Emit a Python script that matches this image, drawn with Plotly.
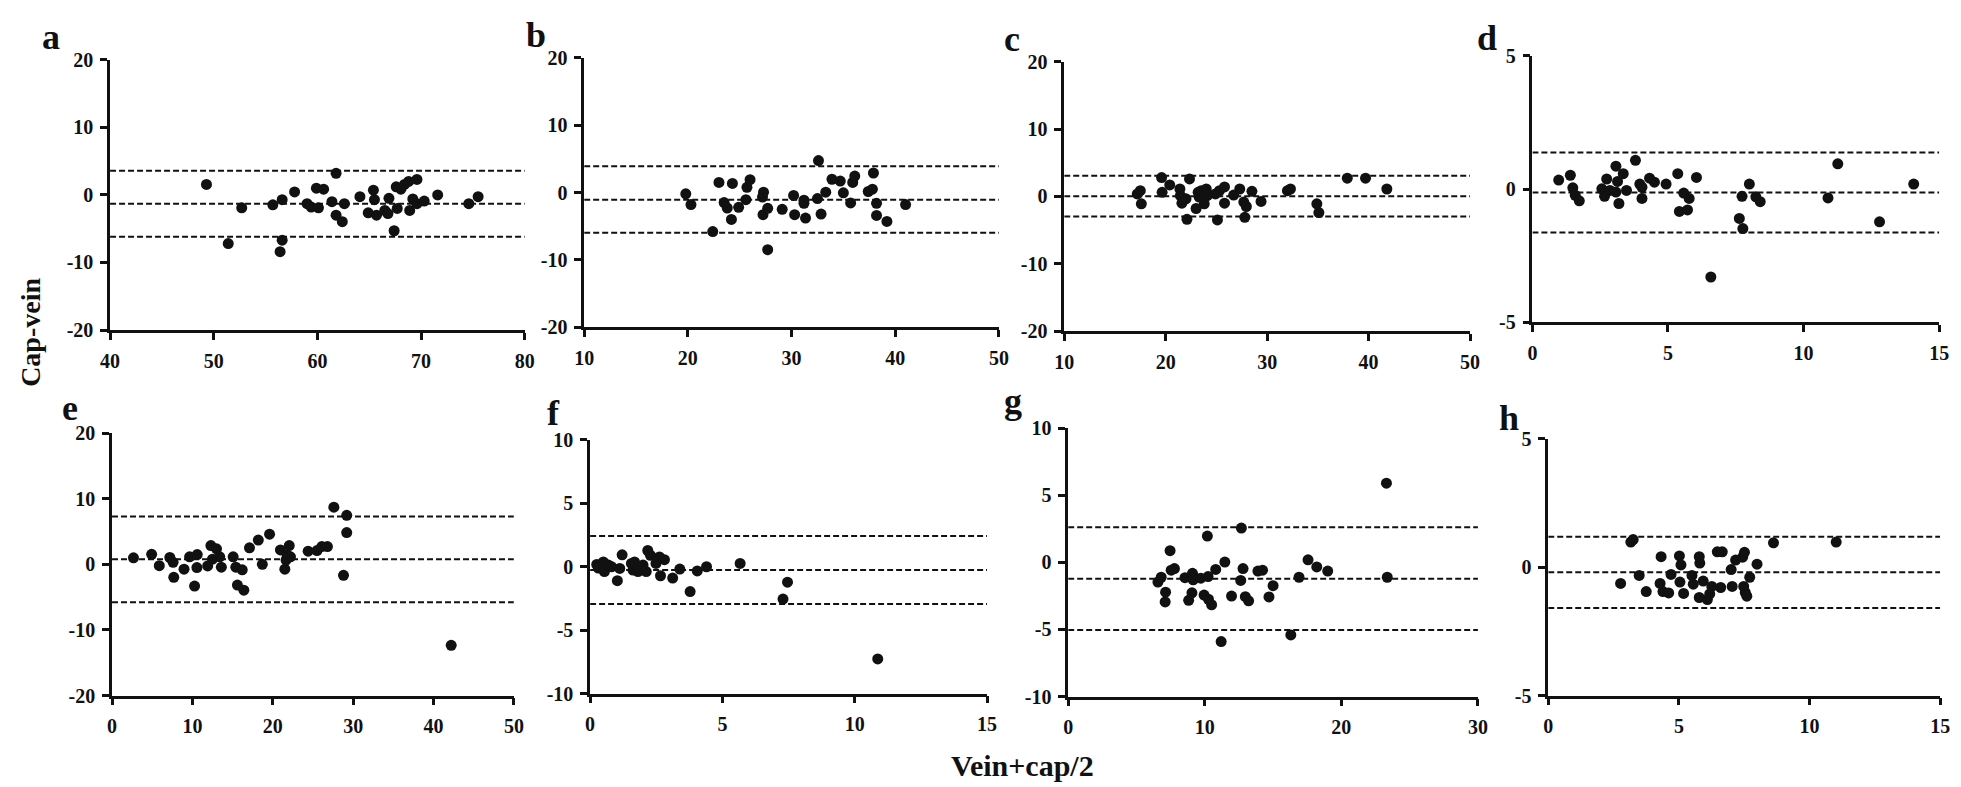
import plotly.graph_objects as go

W, H = 1961, 787

# ---- data (Bland-Altman style panels a-h) ----
a_x = [49.3, 51.4, 52.7, 55.7, 56.6, 56.6, 56.4, 57.8, 59.0, 59.4, 59.9, 60.1, 60.6, 61.4,
       61.8, 61.8, 62.4, 62.6, 64.1, 64.9, 65.4, 65.5, 65.7, 66.5, 66.9, 66.8, 67.4, 67.6,
       67.7, 68.05, 68.4, 68.8, 68.9, 69.2, 69.6, 69.6, 70.3, 71.6, 74.6, 75.5]
a_y = [1.56, -7.2, -1.9, -1.46, -0.7, -6.7, -8.4, 0.45, -1.3, -1.8, 1.0, -1.9, 0.85, -1.0,
       3.2, -3.0, -3.95, -1.3, -0.25, -2.65, 0.7, -0.7, -3.0, -2.3, -0.5, -2.75, -5.3, 1.2,
       -2.0, 0.85, 1.56, 2.0, -2.3, -0.6, 2.3, -1.3, -0.9, 0.0, -1.3, -0.25]
a_lines = [3.57, -1.32, -6.2]

b_x = [19.8, 20.3, 22.4, 23.0, 23.5, 23.8, 24.3, 24.2, 24.9, 25.6, 25.7, 26.0, 27.2, 27.3,
       27.25, 27.7, 27.7, 29.1, 30.2, 30.3, 31.2, 31.2, 31.35, 32.5, 32.6, 32.85, 33.3, 33.9,
       34.7, 35.0, 35.7, 35.9, 36.1, 37.4, 37.8, 37.9, 38.2, 38.2, 39.2, 41.0]
b_y = [-0.2, -1.8, -5.8, 1.5, -1.5, -2.3, 1.35, -4.0, -2.2, -1.06, 0.77, 1.9, -0.67, 0.05,
       -3.3, -2.35, -8.5, -2.5, -0.43, -3.3, -1.15, -1.6, -3.8, -0.9, 4.75, -3.2, 0.05, 1.97,
       1.7, -0.05, -1.55, 1.5, 2.45, 0.15, 0.5, 2.9, -1.6, -3.4, -4.3, -1.8]
b_lines = [3.9, -1.06, -5.96]

c_x = [17.2, 17.5, 17.6, 19.6, 19.65, 20.4, 21.4, 21.45, 21.6, 22.0, 22.1, 22.35, 23.0, 23.2,
       23.3, 23.5, 23.8, 24.0, 24.1, 24.9, 25.1, 25.3, 25.8, 25.8, 26.7, 27.3, 27.7, 27.95,
       27.8, 28.5, 29.4, 32.0, 32.3, 34.9, 35.1, 37.9, 39.7, 41.8]
c_y = [0.36, 0.85, -1.1, 2.8, 0.6, 1.7, 1.1, 0.1, -1.0, -0.36, -3.4, 2.6, -1.8, 0.6,
       -0.1, 0.85, -1.1, 1.1, 0.1, 0.36, -3.5, 0.85, 1.4, -1.0, 0.2, 1.1, -0.85, -1.5,
       -3.1, 0.75, -0.75, 0.85, 1.1, -1.1, -2.4, 2.7, 2.7, 1.1]
c_lines = [3.06, 0.02, -3.0]

d_x = [0.97, 1.40, 1.49, 1.58, 1.73, 2.56, 2.66, 2.74, 2.86, 3.08, 3.14, 3.08, 3.19, 3.35,
       3.47, 3.8, 3.96, 4.04, 4.04, 4.32, 4.5, 4.93, 5.36, 5.42, 5.58, 5.72, 5.78, 6.05,
       6.58, 7.63, 7.76, 7.73, 8.0, 8.24, 8.4, 10.9, 11.26, 12.8, 14.06]
d_y = [0.34, 0.52, 0.05, -0.23, -0.44, 0.01, -0.27, 0.38, -0.05, 0.86, 0.29, -0.11, -0.54, 0.58,
       -0.05, 1.08, 0.19, 0.07, -0.35, 0.41, 0.26, 0.19, 0.58, -0.84, -0.15, -0.78, -0.35, 0.44,
       -3.3, -1.1, -1.48, -0.27, 0.19, -0.29, -0.47, -0.33, 0.95, -1.23, 0.19]
d_lines = [1.37, -0.13, -1.63]

e_x = [2.67, 4.93, 5.88, 7.19, 7.6, 7.68, 8.96, 9.65, 10.27, 10.6, 10.56, 11.9, 12.3, 12.5,
       13.0, 13.4, 13.6, 15.07, 15.4, 15.6, 16.2, 16.4, 17.1, 18.2, 18.7, 19.6, 20.95, 21.5,
       21.65, 21.8, 22.05, 22.2, 24.4, 25.5, 26.1, 26.8, 27.6, 28.8, 29.2, 29.2, 42.2]
e_y = [0.99, 1.53, -0.2, 1.04, 0.3, -1.98, -0.74, 1.14, -3.31, 1.48, -0.49, -0.25, 2.86, 0.79,
       2.37, 1.14, -0.44, 1.14, -0.44, -3.16, -0.84, -3.95, 2.52, 3.7, 0.0, 4.6, 2.2, -0.74,
       0.64, 1.38, 2.86, 1.14, 2.0, 2.1, 2.7, 2.7, 8.7, -1.68, 7.46, 4.84, -12.35]
e_lines = [7.3, 0.79, -5.78]

f_x = [0.25, 0.37, 0.5, 0.54, 0.69, 0.81, 1.03, 1.12, 1.21, 1.56, 1.62, 1.68, 1.81, 2.0,
       2.12, 2.18, 2.28, 2.49, 2.62, 2.66, 2.81, 3.12, 3.39, 3.78, 4.05, 4.4, 5.67, 7.29,
       7.46, 10.87, 0.31, 1.95]
f_y = [0.18, 0.0, 0.38, -0.38, 0.13, 0.0, -1.1, -0.13, 0.94, 0.26, -0.26, 0.38, -0.38, 0.13,
       -0.38, 1.28, 0.9, 0.26, 0.77, -0.71, 0.56, -0.89, -0.18, -1.96, -0.33, 0.0, 0.26, -2.55,
       -1.22, -7.27, -0.1, -0.05]
f_lines = [2.42, -0.26, -2.93]

g_x = [6.57, 6.81, 7.13, 7.1, 7.46, 7.54, 7.78, 8.55, 8.82, 9.06, 9.1, 9.15, 9.71, 9.95,
       10.19, 10.24, 10.27, 10.5, 10.8, 11.2, 11.47, 11.96, 12.63, 12.68, 12.8, 12.97, 13.21,
       13.89, 14.23, 14.7, 15.0, 16.3, 16.9, 17.56, 18.2, 19.0, 23.3, 23.36]
g_y = [-1.47, -1.11, -2.22, -2.95, 0.87, -0.58, -0.46, -1.14, -2.83, -2.27, -0.82, -1.3, -1.18,
       -2.44, 1.96, -1.06, -2.75, -3.16, -0.53, -5.9, 0.02, -2.51, -1.35, 2.56, -0.46, -2.56,
       -2.87, -0.65, -0.58, -2.58, -1.74, -5.41, -1.11, 0.19, -0.34, -0.65, 5.9, -1.11]
g_lines = [2.61, -1.23, -5.05]

h_x = [2.77, 3.16, 3.25, 3.48, 3.75, 4.32, 4.28, 4.39, 4.61, 4.7, 5.02, 5.08, 5.04, 5.18,
       5.5, 5.55, 5.78, 5.8, 5.78, 5.93, 6.09, 6.18, 6.26, 6.47, 6.66, 6.6, 7.0, 7.04, 7.17,
       7.44, 7.51, 7.48, 7.54, 7.6, 7.71, 7.99, 8.62, 11.02]
h_y = [-0.63, 0.98, 1.08, -0.32, -0.95, 0.41, -0.63, -0.95, -1.0, -0.28, 0.44, 0.09, -0.58, -1.02,
       -0.32, -0.66, 0.41, 0.16, -1.18, -0.54, -1.26, -1.04, -0.75, 0.6, 0.6, -0.79, -0.09,
       -0.75, 0.28, 0.39, 0.58, -0.75, -0.98, -1.13, -0.39, 0.12, 0.95, 0.98]
h_lines = [1.19, -0.2, -1.59]

# axis ranges and ticks for each panel
x_ranges = [(40, 80, 10), (10, 50, 10), (10, 50, 10), (0, 15, 5),
            (0, 50, 10), (0, 15, 5), (0, 30, 10), (0, 15, 5)]
y_ranges = [(-20, 20, 10), (-20, 20, 10), (-20, 20, 10), (-5, 5, 5),
            (-20, 20, 10), (-10, 10, 5), (-10, 10, 5), (-5, 5, 5)]
labels = ["a", "b", "c", "d", "e", "f", "g", "h"]

# plot-area boxes in pixels: left, right, top, bottom
boxes = [(93, 512, 42, 320), (572, 991, 40, 317), (1057, 1467, 44, 321), (1530, 1941, 38, 312),
         (95, 501, 426, 696), (578, 979, 433, 694), (1061, 1475, 421, 697), (1546, 1942, 432, 696)]
# panel letter positions (left, baseline) in pixels
label_pos = [(23, 31), (512, 29), (995, 33), (1473, 32),
             (43, 413), (533, 418), (995, 406), (1495, 423)]

xs = [a_x, b_x, c_x, d_x, e_x, f_x, g_x, h_x]
ys = [a_y, b_y, c_y, d_y, e_y, f_y, g_y, h_y]
lines = [a_lines, b_lines, c_lines, d_lines, e_lines, f_lines, g_lines, h_lines]

FONT = "Liberation Serif"
BLACK = "#111111"


def tick_list(lo, hi, step):
    vals = list(range(lo, hi + 1, step))
    return vals, [str(v) for v in vals]


fig = go.Figure()
layout = {}
shapes = []
annotations = []

for i in range(8):
    n = "" if i == 0 else str(i + 1)
    xa, ya = "x" + n, "y" + n
    left, right, top, bottom = boxes[i]
    x0, x1, xs_step = x_ranges[i]
    y0, y1, ys_step = y_ranges[i]

    fig.add_trace(go.Scatter(
        x=xs[i], y=ys[i], mode="markers", xaxis=xa, yaxis=ya,
        marker=dict(size=11, color=BLACK),
        showlegend=False, cliponaxis=False,
    ))

    # mean and limits of agreement
    for v in lines[i]:
        shapes.append(dict(type="line", xref=xa, yref=ya, x0=x0, x1=x1, y0=v, y1=v,
                           line=dict(color=BLACK, width=2, dash="6px,3px")))

    xv, xt = tick_list(x0, x1, xs_step)
    yv, yt = tick_list(y0, y1, ys_step)
    common = dict(showgrid=False, zeroline=False, showline=True, linecolor=BLACK,
                  linewidth=2.5, ticks="outside", ticklen=7, tickwidth=2.5,
                  tickcolor=BLACK, fixedrange=True,
                  tickfont=dict(family=FONT, size=20, color=BLACK, weight="bold"))
    layout["xaxis" + n] = dict(domain=[left / W, right / W], range=[x0, x1],
                               tickvals=xv, ticktext=xt, anchor=ya,
                               ticklabelstandoff=4, **common)
    layout["yaxis" + n] = dict(domain=[1 - bottom / H, 1 - top / H], range=[y0, y1],
                               tickvals=yv, ticktext=yt, anchor=xa,
                               ticklabelstandoff=3, **common)

    lx, lb = label_pos[i]
    annotations.append(dict(text=labels[i], x=lx / W, y=1 - (lb + 9) / H,
                            xref="paper", yref="paper", xanchor="left", yanchor="bottom",
                            showarrow=False, borderpad=0,
                            font=dict(family=FONT, size=36, color=BLACK, weight="bold")))

annotations.append(dict(text="Cap-vein", x=13 / W, y=1 - 322 / H, xref="paper", yref="paper",
                        textangle=-90, showarrow=False, xanchor="center", yanchor="middle",
                        font=dict(family=FONT, size=28, color=BLACK, weight="bold")))
annotations.append(dict(text="Vein+cap/2", x=1015 / W, y=1 - 768 / H, xref="paper", yref="paper",
                        showarrow=False, xanchor="center", yanchor="middle",
                        font=dict(family=FONT, size=30, color=BLACK, weight="bold")))

fig.update_layout(
    width=W, height=H,
    margin=dict(l=0, r=0, t=0, b=0),
    paper_bgcolor="white", plot_bgcolor="white",
    shapes=shapes, annotations=annotations,
    **layout,
)

fig.write_html("out.html", config={"displayModeBar": False})
